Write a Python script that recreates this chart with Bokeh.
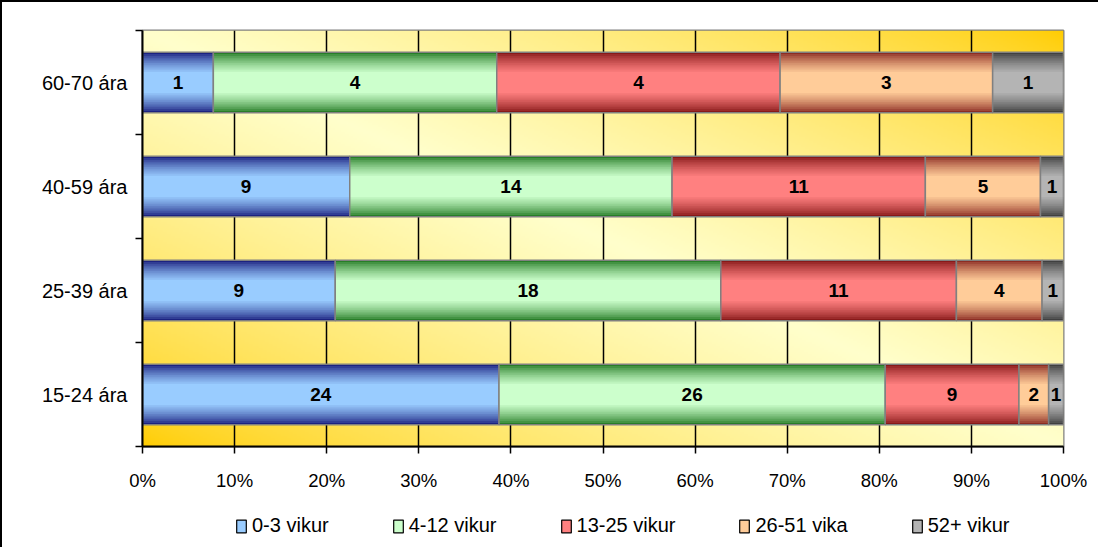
import numpy as np
from bokeh.plotting import figure
from bokeh.layouts import column
from bokeh.models import (Range1d, FixedTicker, Legend, LegendItem, ColumnDataSource)
from bokeh.embed import file_html
from bokeh.resources import INLINE
from bokeh.core.properties import value

# ---------------- data ----------------
categories = ["15-24 ára", "25-39 ára", "40-59 ára", "60-70 ára"]
series_names = ["0-3 vikur", "4-12 vikur", "13-25 vikur", "26-51 vika", "52+ vikur"]
v_0_3 = [24, 9, 9, 1]
v_4_12 = [26, 18, 14, 4]
v_13_25 = [9, 11, 11, 4]
v_26_51 = [2, 4, 5, 3]
v_52 = [1, 1, 1, 1]
series_values = [v_0_3, v_4_12, v_13_25, v_26_51, v_52]
x_ticks = [0, 0.1, 0.2, 0.3, 0.4, 0.5, 0.6, 0.7, 0.8, 0.9, 1.0]
x_tick_labels = ["0%", "10%", "20%", "30%", "40%", "50%", "60%", "70%", "80%", "90%", "100%"]

# ---------------- style ----------------
edge_colors = [(28, 34, 128), (40, 125, 40), (135, 25, 25), (140, 45, 35), (64, 64, 64)]
center_colors = [(153, 204, 255), (204, 255, 204), (255, 128, 128), (255, 204, 153), (180, 180, 180)]
FONT = "Liberation Sans"
BAR_H = 0.58
N_LAYERS = 12

def hexc(c):
    return "#%02x%02x%02x" % tuple(int(round(x)) for x in c)

p = figure(width=1098, height=500, x_range=Range1d(0, 1), y_range=Range1d(0, len(categories)),
           output_backend="svg", toolbar_location=None,
           min_border_left=140, min_border_right=37, min_border_top=28, min_border_bottom=56)
p.styles = {"border-left": "2px solid black", "border-top": "2px solid black"}
p.background_fill_color = "white"
p.border_fill_color = "white"
p.outline_line_color = "#808080"
p.outline_line_width = 2

# legend strip below the chart (its own figure so the legend is not clipped)
lf = figure(width=1098, height=47, x_range=p.x_range,
            y_range=Range1d(len(categories) + 1, len(categories) + 2),
            x_axis_type=None, y_axis_type=None, output_backend="svg",
            toolbar_location=None, min_border=0)
lf.styles = {"border-left": "2px solid black"}
lf.outline_line_color = None
lf.background_fill_color = "white"
lf.border_fill_color = "white"
lf.grid.visible = False

# plot-area gradient background (styling only)
ny, nx = 208, 460
u = np.linspace(0, 1, nx)[None, :]
v = np.linspace(0, 1, ny)[:, None]
t = (u + v) / 2.0
w = (1 - np.abs(2 * t - 1)) ** 0.7
gold = np.array([255, 204, 0], dtype=float)
pale = np.array([255, 255, 204], dtype=float)
rgb = gold[None, None, :] + (pale - gold)[None, None, :] * w[:, :, None]
img = np.zeros((ny, nx), dtype=np.uint32)
view = img.view(dtype=np.uint8).reshape((ny, nx, 4))
view[:, :, 0:3] = np.clip(rgb, 0, 255).astype(np.uint8)
view[:, :, 3] = 255
p.image_rgba(image=[img], x=0, y=0, dw=1, dh=len(categories), level="image")

# grid
p.xgrid.ticker = FixedTicker(ticks=x_ticks)
p.xgrid.grid_line_color = "black"
p.xgrid.grid_line_width = 1.5
p.ygrid.visible = False

# bars
y_pos = [i + 0.5 for i in range(len(categories))]
totals = np.sum(np.array(series_values, dtype=float), axis=0)
cum = np.zeros(len(categories))
legend_items = []
for si, vals in enumerate(series_values):
    share = np.array(vals, dtype=float) / totals
    left = cum.copy()
    right = cum + share
    cum = right
    src = ColumnDataSource(dict(y=y_pos, left=left, right=right, mid=(left + right) / 2,
                                label=[str(x) for x in vals]))
    e = np.array(edge_colors[si], dtype=float)
    c = np.array(center_colors[si], dtype=float)
    for k in range(N_LAYERS):
        frac = k / (N_LAYERS - 1)
        h = BAR_H * (1 - 0.65 * frac)
        s = frac ** 0.75
        col = hexc(e + (c - e) * s)
        p.hbar(y="y", left="left", right="right", height=h, source=src,
               fill_color=col, line_color=None)
    p.hbar(y="y", left="left", right="right", height=BAR_H, source=src,
           fill_alpha=0, line_color="#808080", line_width=1.5)
    p.text(x="mid", y="y", text="label", source=src, text_align="center",
           text_baseline="middle", text_font=value(FONT), text_font_style="bold",
           text_font_size="19px", text_color="black")
    # legend swatch renderer in the legend strip (outside its visible range)
    swatch = lf.hbar(y="y", left="left", right="right", height=BAR_H, source=src,
                     fill_color=hexc(c), line_color="black", line_width=1.2)
    legend_items.append(LegendItem(label=series_names[si], renderers=[swatch]))

# axes
xa = p.xaxis[0]
xa.ticker = FixedTicker(ticks=x_ticks)
xa.major_label_overrides = {tk: lb for tk, lb in zip(x_ticks, x_tick_labels)}
xa.major_tick_out = 7
xa.major_tick_in = 0
xa.minor_tick_out = 0
xa.minor_tick_in = 0
xa.axis_line_color = "black"
xa.axis_line_width = 2
xa.major_tick_line_color = "black"
xa.major_tick_line_width = 1.5
xa.major_label_text_font = FONT
xa.major_label_text_font_size = "18.5px"
xa.major_label_text_color = "black"
xa.major_label_standoff = 16

ya = p.yaxis[0]
ya.ticker = FixedTicker(ticks=y_pos, minor_ticks=[float(i) for i in range(len(categories) + 1)])
ya.major_label_overrides = {yy: cat for yy, cat in zip(y_pos, categories)}
ya.major_tick_out = 0
ya.major_tick_in = 0
ya.minor_tick_out = 7
ya.minor_tick_in = 0
ya.minor_tick_line_color = "black"
ya.minor_tick_line_width = 1.5
ya.axis_line_color = "black"
ya.axis_line_width = 2
ya.major_label_text_font = FONT
ya.major_label_text_font_size = "20px"
ya.major_label_text_color = "black"
ya.major_label_standoff = 8

legend = Legend(items=legend_items, orientation="horizontal", location=(93, 10),
                glyph_width=12, glyph_height=16, label_height=16, label_standoff=5,
                spacing=63, padding=0, margin=0, border_line_alpha=0,
                background_fill_alpha=0, label_text_font=FONT,
                label_text_font_size="20px", label_text_color="black")
lf.add_layout(legend)

layout = column(p, lf, spacing=0)
open("out.html", "w").write(file_html(layout, INLINE))
